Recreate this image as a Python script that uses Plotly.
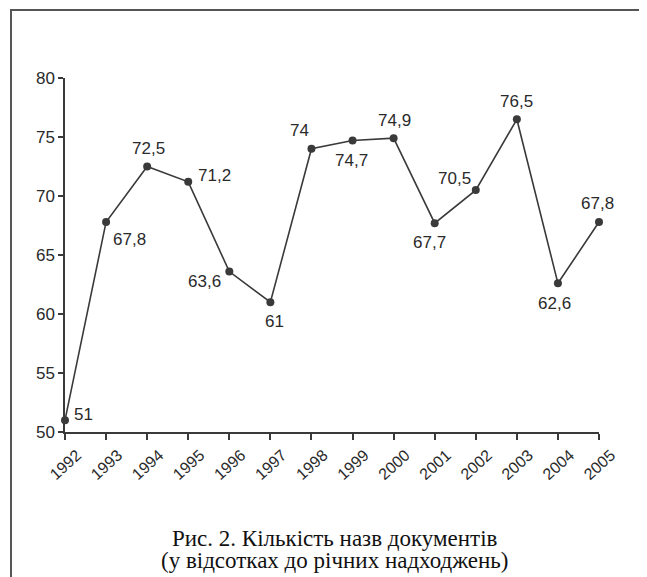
import plotly.graph_objects as go

years = [1992, 1993, 1994, 1995, 1996, 1997, 1998, 1999, 2000, 2001, 2002, 2003, 2004, 2005]
values = [51, 67.8, 72.5, 71.2, 63.6, 61, 74, 74.7, 74.9, 67.7, 70.5, 76.5, 62.6, 67.8]
value_labels = ["51", "67,8", "72,5", "71,2", "63,6", "61", "74", "74,7", "74,9", "67,7", "70,5", "76,5", "62,6", "67,8"]
tick_labels = [str(y) for y in years]
y_ticks = [50, 55, 60, 65, 70, 75, 80]
caption_line1 = "Рис. 2. Кількість назв документів"
caption_line2 = "(у відсотках до річних надходжень)"

# label placement styles (xanchor, yanchor, xshift, yshift)
label_pos = [
    ("left", "middle", 7, 6),
    ("left", "top", 5, -6),
    ("center", "bottom", 1, 7),
    ("left", "middle", 8, 6),
    ("right", "middle", -6, -10),
    ("center", "top", 4, -8),
    ("center", "bottom", -12, 7),
    ("center", "top", -1, -8),
    ("center", "bottom", 1, 6),
    ("center", "top", -5, -8),
    ("right", "middle", -3, 12),
    ("center", "bottom", 0, 6),
    ("center", "top", -3, -9),
    ("center", "bottom", -2, 7),
]

dark = "#3a3a3a"
sans = "Liberation Sans, Arial"
serif = "Liberation Serif, Times New Roman"

fig = go.Figure()
fig.add_trace(go.Scatter(
    x=years, y=values, mode="lines+markers",
    line=dict(color=dark, width=1.6),
    marker=dict(color=dark, size=8),
    cliponaxis=False, showlegend=False, hoverinfo="skip",
))

for x, y, t, (xa, ya, xs, ys) in zip(years, values, value_labels, label_pos):
    fig.add_annotation(x=x, y=y, text=t, showarrow=False, xanchor=xa, yanchor=ya,
                       xshift=xs, yshift=ys,
                       font=dict(family=sans, size=17, color="#2a2a2a"))

fig.add_annotation(xref="paper", yref="paper", x=0.505, y=-0.302, text=caption_line1,
                   showarrow=False, xanchor="center", yanchor="middle",
                   font=dict(family=serif, size=23, color="#111"))
fig.add_annotation(xref="paper", yref="paper", x=0.505, y=-0.364, text=caption_line2,
                   showarrow=False, xanchor="center", yanchor="middle",
                   font=dict(family=serif, size=23, color="#111"))

# outer frame
fig.add_shape(type="rect", xref="paper", yref="paper",
              x0=-0.1011, x1=1.088, y0=-0.6, y1=1.192,
              line=dict(color="#555", width=2), fillcolor="rgba(0,0,0,0)")

fig.update_xaxes(range=[1992, 2005], tickmode="array", tickvals=years, ticktext=tick_labels,
                 tickangle=-42, ticklabelshift=12, showline=True, linecolor=dark, linewidth=1.5,
                 ticks="outside", ticklen=6, tickcolor=dark, tickwidth=1.5,
                 showgrid=False, zeroline=False,
                 tickfont=dict(family=sans, size=16, color="#2a2a2a"))
fig.update_yaxes(range=[50, 80], tickmode="array", tickvals=y_ticks,
                 showline=True, linecolor=dark, linewidth=1.5,
                 ticks="outside", ticklen=5, tickcolor=dark, tickwidth=1.5,
                 showgrid=False, zeroline=False,
                 tickfont=dict(family=sans, size=17, color="#2a2a2a"))

fig.update_layout(width=639, height=569, margin=dict(l=57, r=48, t=70, b=145),
                  plot_bgcolor="white", paper_bgcolor="white")
fig.write_html("out.html")
